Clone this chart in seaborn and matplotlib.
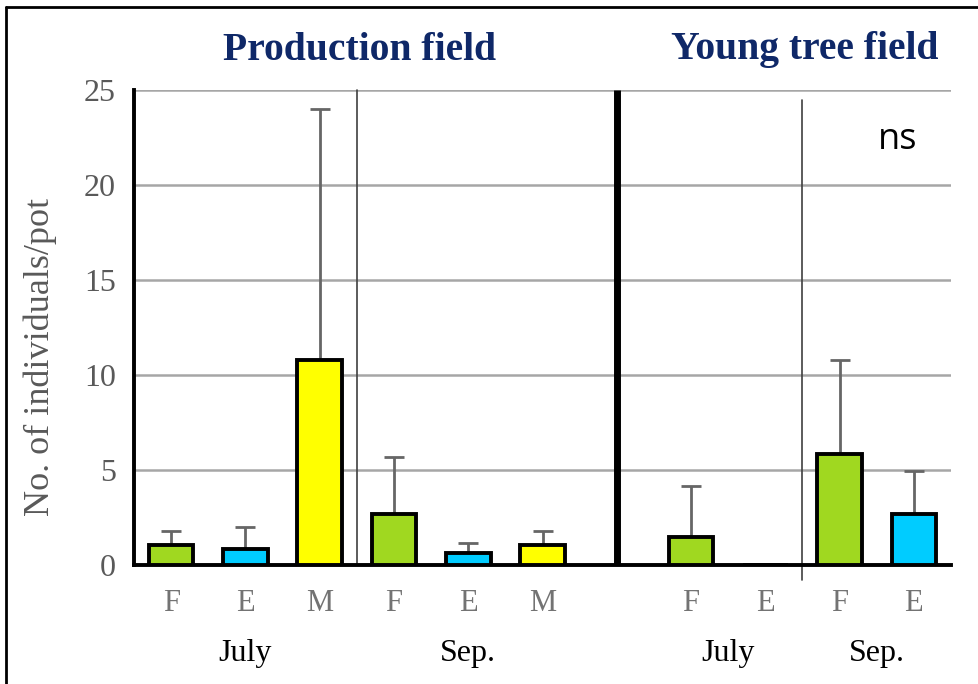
import numpy as np
import pandas as pd
import matplotlib
matplotlib.use("Agg")
import matplotlib.pyplot as plt
import seaborn as sns

# Data: mean number of individuals per pot with upper SD bars
slots = ["p_jul_F", "p_jul_E", "p_jul_M", "p_sep_F", "p_sep_E", "p_sep_M",
         "gap", "y_jul_F", "y_jul_E", "y_sep_F", "y_sep_E"]
tick_labels = ["F", "E", "M", "F", "E", "M", "", "F", "E", "F", "E"]
means = [1.05, 0.85, 10.8, 2.7, 0.65, 1.05, np.nan, 1.5, 0.0, 5.85, 2.7]
upper = [1.8, 2.0, 24.0, 5.7, 1.15, 1.8, np.nan, 4.15, np.nan, 10.8, 4.95]
species = ["F", "E", "M", "F", "E", "M", "F", "F", "E", "F", "E"]
palette = {"F": "#A0D820", "E": "#00CCFF", "M": "#FFFF00"}

months = ["July", "Sep.", "July", "Sep."]
month_pos = [1.0, 4.0, 7.5, 9.5]
fields = ["Production field", "Young tree field"]

df = pd.DataFrame({"slot": slots, "mean": means, "species": species})

sns.set_style("white")
fig = plt.figure(figsize=(9.79, 6.84), dpi=100)
ax = fig.add_axes([134 / 979, 1 - 565 / 684, (951 - 134) / 979, (565 - 90) / 684])

sns.barplot(data=df, x="slot", y="mean", hue="species", palette=palette,
            order=slots, width=0.6, saturation=1, edgecolor="black", linewidth=2.8,
            legend=False, ax=ax, zorder=3)

# upper-only error bars
x = np.arange(len(slots))
m = np.array(means, dtype=float)
u = np.array(upper, dtype=float)
ok = ~np.isnan(u)
ax.errorbar(x[ok], m[ok], yerr=[np.zeros(ok.sum()), (u - m)[ok]], fmt="none",
            ecolor="#666666", elinewidth=2, capsize=7, capthick=2, zorder=2)

ax.set_xlim(-0.5, len(slots) - 0.5)
ax.set_ylim(0, 25)
ax.set_yticks([0, 5, 10, 15, 20, 25])
ax.yaxis.grid(True, color="#A6A6A6", linewidth=1.8, zorder=0)
ax.set_axisbelow(True)

serif = ["Liberation Serif", "DejaVu Serif"]
ax.set_xticks(x)
ax.set_xticklabels(tick_labels, family=serif, fontsize=22, color="#737373")
ax.tick_params(axis="x", which="major", length=0, pad=17)
ax.set_xticks(np.arange(-0.5, len(slots)), minor=True)
ax.tick_params(axis="x", which="minor", length=7, width=2.5, color="black", direction="out")
ax.tick_params(axis="y", length=8, width=2.5, color="black", direction="out", pad=5)
for lab in ax.get_yticklabels():
    lab.set_family(serif)
    lab.set_fontsize(23)
    lab.set_color("#595959")
ax.set_xlabel("")
ax.set_ylabel("No. of individuals/pot", family=serif, fontsize=26, color="#595959",
              va="center")
ax.yaxis.set_label_coords(-0.115, 0.438)

for side in ["top", "right"]:
    ax.spines[side].set_visible(False)
for side in ["left", "bottom"]:
    ax.spines[side].set_linewidth(2.8)
    ax.spines[side].set_color("black")

# divider lines between periods and between fields
ax.plot([2.5, 2.5], [0, 25], color="#404040", lw=1.2, zorder=1, clip_on=False)
ax.plot([8.5, 8.5], [-0.8, 24.5], color="#404040", lw=1.2, zorder=1, clip_on=False)
ax.plot([6, 6], [0, 25], color="black", lw=5, zorder=4, clip_on=False,
        solid_capstyle="butt")

for lbl, pos in zip(months, month_pos):
    ax.text(pos, -4.65, lbl, ha="center", va="center", family=serif, fontsize=23,
            color="black", transform=ax.transData, clip_on=False)

title_kw = dict(ha="center", va="center", family=serif, fontsize=28.5,
                fontweight="bold", color="#0F2868")
fig.text(360 / 979, 1 - 50 / 684, fields[0], **title_kw)
fig.text(805 / 979, 1 - 50 / 684, fields[1], **title_kw)

fig.text(898 / 979, 1 - 140 / 684, "ns", ha="center", va="center",
         family=["Open Sans", "DejaVu Sans"], fontsize=26, color="black")

# frame lines along the top and left edge
fig.add_artist(plt.Line2D([6 / 979, 6 / 979], [0, 1 - 7 / 684], color="black", lw=2,
                          transform=fig.transFigure))
fig.add_artist(plt.Line2D([6 / 979, 1], [1 - 7 / 684, 1 - 7 / 684], color="black", lw=2,
                          transform=fig.transFigure))

fig.savefig("out.png", dpi=100)
